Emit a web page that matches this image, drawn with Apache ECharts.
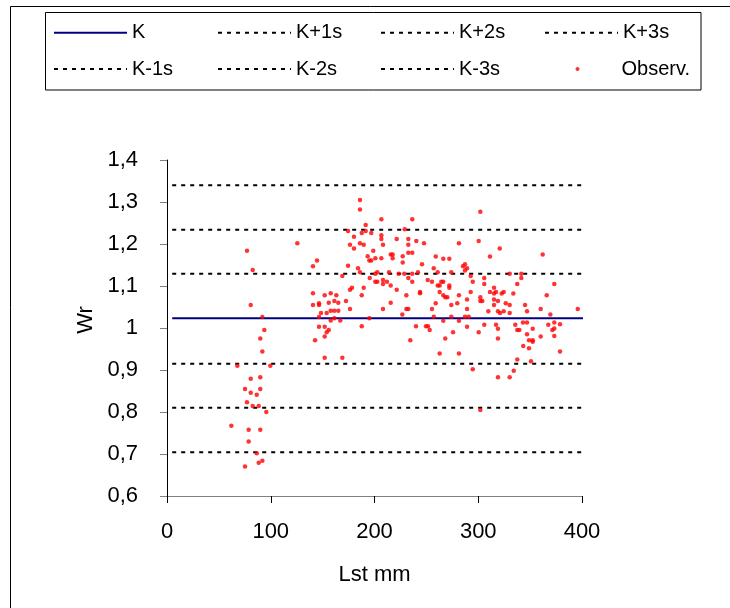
<!DOCTYPE html>
<html>
<head>
<meta charset="utf-8">
<script src="https://cdn.jsdelivr.net/npm/echarts@6/dist/echarts.min.js"></script>
<style>
  html, body { margin: 0; padding: 0; background: #fff; }
  #chart { width: 730px; height: 608px; }
</style>
</head>
<body>
<div id="chart"></div>
<script>
// ---- Data ----
const seriesNames = ['K', 'K+1s', 'K+2s', 'K+3s', 'K-1s', 'K-2s', 'K-3s', 'Observ.'];
const refLineX = [5, 405];
const refLevels = [1.023, 1.129, 1.234, 1.340, 0.915, 0.810, 0.704];

const obsL = [77.1,82.6,125.6,140.7,144.6,140.7,80.7,140.7,146.5,146.5,91.9,146.5,93.8,89.9,142.7,91.9,67.8,99.6,80.7,89.9,
  75.2,89.9,80.7,86.5,77.1,82.6,88.4,95.7,62.0,78.7,89.9,78.7,86.5,75.2,88.4,91.9,146.5,186.0,186.0,206.6,
  236.4,191.5,174.5,191.5,187.7,196.9,229.1,206.6,180.2,232.6,206.6,221.4,186.0,189.6,176.4,208.2,232.6,240.3,247.7,180.2,
  198.8,232.6,236.4,215.6,217.5,193.4,200.8,206.6,227.2,217.5,195.0,196.9,227.2,174.5,245.8,184.1,186.0,214.0,202.7,200.8,
  223.3,228.7,236.4,241.9,169.0,195.4,232.6,208.2,200.8,202.7,212.0,236.4,251.3,208.2,215.6,178.3,176.4,189.6,221.4,152.0,
  157.8,163.2,187.7,230.7,243.9,243.9,155.9,161.3,165.1,172.5,215.6,176.4,208.2,230.7,232.6,148.4,153.9,157.8,161.3,165.1,
  157.8,161.3,167.0,195.0,226.8,152.0,155.9,153.9,152.0,187.7,240.0,249.6,251.6,253.2,234.5,302.0,300.4,281.4,320.7,311.3,
  259.0,266.3,272.1,362.1,287.2,285.3,289.2,287.2,257.1,260.9,274.0,292.7,305.8,330.3,341.5,341.5,294.7,305.8,337.6,255.4,
  264.4,266.3,260.9,262.8,272.1,272.1,315.2,262.8,292.7,311.3,317.1,322.6,324.5,333.8,315.2,266.3,268.2,270.2,281.4,302.0,
  315.2,366.0,259.0,274.0,279.8,289.2,302.0,303.9,319.0,326.5,330.3,345.1,315.2,255.4,289.2,309.7,319.0,321.0,324.5,330.3,
  347.0,360.2,257.1,274.0,287.2,290.8,281.4,266.3,275.7,268.2,289.2,305.8,317.1,319.0,300.4,319.0,335.7,343.1,347.0,337.6,
  339.6,347.0,352.5,348.9,352.5,352.5,360.2,367.5,373.3,395.9,369.5,371.4,373.3,373.3,378.8,373.3,152.0,169.0,262.8,281.4,
  294.7,319.0,330.3,334.2,337.6,350.8,343.4,348.9,378.8,302.0];

const obsWr = [1.184,1.138,1.202,1.147,1.161,1.083,1.055,1.055,1.059,1.055,1.026,1.026,0.995,0.975,0.971,0.944,0.910,0.910,0.879,0.883,
  0.855,0.855,0.846,0.841,0.823,0.814,0.814,0.800,0.767,0.758,0.758,0.730,0.702,0.670,0.679,0.684,1.003,1.305,1.282,1.259,
  1.259,1.245,1.231,1.231,1.226,1.226,1.235,1.221,1.217,1.212,1.212,1.212,1.202,1.198,1.198,1.198,1.198,1.207,1.202,1.189,
  1.184,1.179,1.179,1.175,1.175,1.171,1.166,1.166,1.171,1.166,1.161,1.161,1.156,1.148,1.152,1.142,1.133,1.133,1.133,1.129,
  1.129,1.129,1.129,1.133,1.124,1.119,1.119,1.114,1.110,1.110,1.110,1.110,1.114,1.105,1.101,1.096,1.091,1.096,1.091,1.078,
  1.083,1.078,1.078,1.078,1.086,1.083,1.060,1.064,1.060,1.064,1.060,1.045,1.045,1.045,1.045,1.036,1.036,1.041,1.041,1.041,
  1.018,1.023,1.018,1.023,1.032,1.003,0.995,0.990,0.980,1.004,1.004,1.004,1.004,0.995,0.971,1.277,1.207,1.202,1.189,1.170,
  1.170,1.165,1.165,1.175,1.152,1.147,1.142,1.137,1.142,1.133,1.133,1.124,1.119,1.129,1.129,1.119,1.110,1.105,1.105,1.110,
  1.110,1.110,1.101,1.101,1.101,1.096,1.096,1.086,1.086,1.086,1.086,1.082,1.086,1.082,1.082,1.078,1.073,1.073,1.078,1.073,
  1.068,1.078,1.059,1.055,1.059,1.068,1.064,1.064,1.064,1.059,1.055,1.055,1.055,1.045,1.045,1.040,1.040,1.036,1.040,1.036,
  1.040,1.045,1.027,1.027,1.027,1.027,1.017,1.017,0.990,0.975,1.003,1.008,1.008,0.998,0.990,0.975,1.008,1.013,1.013,0.995,
  0.995,0.985,0.998,0.971,0.971,0.967,0.980,1.008,1.105,1.045,1.032,0.995,0.999,1.013,1.009,0.981,0.929,0.929,0.939,0.939,
  0.902,0.883,0.883,0.898,0.925,0.921,0.957,0.952,0.944,0.805];

const xTicks = { min: 0, max: 400, interval: 100 };
const yTicks = { min: 0.6, max: 1.4, interval: 0.1 };

// ---- Chart ----
const FONT = '"Liberation Sans", Arial, sans-serif';
const chart = echarts.init(document.getElementById('chart'), null, { renderer: 'canvas' });

const series = [];
refLevels.forEach((lv, i) => {
  const isK = i === 0;
  series.push({
    name: seriesNames[i],
    type: 'line',
    data: refLineX.map(x => [x, lv]),
    symbol: 'none',
    clip: false,
    silent: true,
    z: 2,
    lineStyle: isK
      ? { color: '#000080', width: 2, type: 'solid' }
      : { color: '#000000', width: 2, type: [4, 5] },
    itemStyle: { color: isK ? '#000080' : '#000000' }
  });
});
series.push({
  name: seriesNames[7],
  type: 'scatter',
  data: obsL.map((x, i) => [x, obsWr[i]]),
  symbol: 'circle',
  symbolSize: 4.5,
  z: 5,
  itemStyle: { color: '#ff0000' }
});

const legendCols = [53, 217, 380, 544];
const legendRows = [22.7, 59];
const legendOrder = [['K', 'K+1s', 'K+2s', 'K+3s'], ['K-1s', 'K-2s', 'K-3s', 'Observ.']];
const legends = [];
legendOrder.forEach((row, r) => {
  row.forEach((nm, c) => {
    const isObs = nm === 'Observ.';
    const base = {
      data: [nm],
      top: legendRows[r],
      padding: 0,
      selectedMode: false
    };
    if (isObs) {
      legends.push(Object.assign(base, {
        left: legendCols[c] + 31.5,
        itemWidth: 4,
        itemHeight: 4,
        icon: 'circle',
        textStyle: { fontFamily: FONT, fontSize: 20, color: '#000', lineHeight: 20, padding: [0, 0, 0, 37] }
      }));
    } else {
      legends.push(Object.assign(base, {
        left: legendCols[c],
        itemWidth: 73,
        itemHeight: 14,
        itemStyle: { opacity: 0 },
        lineStyle: { opacity: 1 },
        textStyle: { fontFamily: FONT, fontSize: 20, color: '#000', lineHeight: 20 }
      }));
    }
  });
});

const yFmt = v => {
  const r = Math.round(v * 10) / 10;
  return Math.abs(r - 1) < 1e-9 ? '1' : r.toFixed(1).replace('.', ',');
};

chart.setOption({
  animation: false,
  backgroundColor: '#ffffff',
  grid: { left: 167, top: 160, width: 415, height: 336, containLabel: false },
  legend: legends,
  xAxis: {
    type: 'value',
    min: xTicks.min, max: xTicks.max, interval: xTicks.interval,
    name: 'Lst mm',
    nameLocation: 'middle',
    nameGap: 68,
    nameTextStyle: { fontFamily: FONT, fontSize: 22, color: '#000' },
    axisLine: { show: true, onZero: false, lineStyle: { color: '#808080', width: 1 } },
    axisTick: { show: true, length: 7, lineStyle: { color: '#000', width: 1 } },
    axisLabel: { margin: 25, fontFamily: FONT, fontSize: 22, color: '#000' },
    splitLine: { show: false }
  },
  yAxis: {
    type: 'value',
    min: yTicks.min, max: yTicks.max, interval: yTicks.interval,
    name: 'Wr',
    nameLocation: 'middle',
    nameGap: 70,
    nameTextStyle: { fontFamily: FONT, fontSize: 22, color: '#000', padding: [0, 0, 0, 16] },
    axisLine: { show: true, onZero: false, lineStyle: { color: '#000', width: 1 } },
    axisTick: { show: true, length: 7, lineStyle: { color: '#808080', width: 1 } },
    axisLabel: { margin: 29, fontFamily: FONT, fontSize: 22, color: '#000', formatter: yFmt },
    splitLine: { show: false }
  },
  graphic: [
    { type: 'rect', silent: true, z: -1, shape: { x: 10.5, y: 6.5, width: 1000, height: 1000 },
      style: { fill: 'none', stroke: '#000', lineWidth: 1 } },
    { type: 'rect', silent: true, z: -1, shape: { x: 45.5, y: 12.5, width: 655.5, height: 77.5 },
      style: { fill: 'none', stroke: '#000', lineWidth: 1 } }
  ],
  series: series
});
</script>
</body>
</html>
